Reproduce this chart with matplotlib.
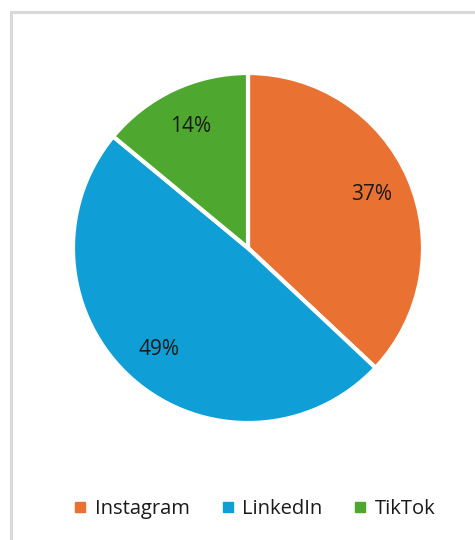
import matplotlib.pyplot as plt
from matplotlib.lines import Line2D
from matplotlib.patches import Rectangle

plt.rcParams['font.family'] = ['Open Sans', 'DejaVu Sans']

platforms = ['Instagram', 'LinkedIn', 'TikTok']
shares = [37, 49, 14]
colors = ['#E97132', '#0F9ED5', '#4EA72E']

fig = plt.figure(figsize=(4.75, 5.4), dpi=100)

# light frame around the chart area
fig.patches.append(Rectangle((11 / 475, -0.1), 1.2, 1 - 12 / 540 + 0.1,
                             transform=fig.transFigure, fill=False,
                             edgecolor='#d9d9d9', linewidth=2.2))

ax = fig.add_axes([73 / 475, 117 / 540, 350 / 475, 350 / 540])
ax.pie(shares, colors=colors, startangle=90, counterclock=False,
       autopct='%1.0f%%', pctdistance=0.77,
       wedgeprops=dict(edgecolor='white', linewidth=3),
       textprops=dict(fontsize=15, color='#1a1a1a'))
ax.set_xlim(-1.0, 1.0)
ax.set_ylim(-1.0, 1.0)
ax.set_aspect('equal')

handles = [Line2D([], [], marker='s', linestyle='', markersize=7,
                  markerfacecolor=c, markeredgecolor=c) for c in colors]
fig.legend(handles, platforms, loc='center', bbox_to_anchor=(0.53, 1 - 509 / 540),
           ncol=3, frameon=False, fontsize=14.5, handletextpad=0.1,
           handlelength=1.2, columnspacing=1.3, labelcolor='#1a1a1a')

fig.savefig('out.png', dpi=100, facecolor='white')
